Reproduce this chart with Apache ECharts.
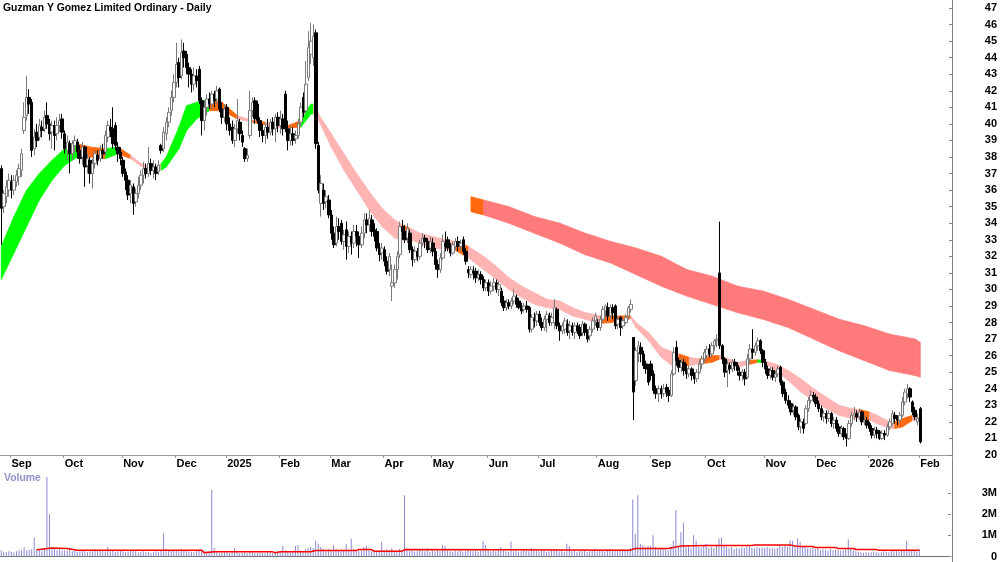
<!DOCTYPE html>
<html>
<head>
<meta charset="utf-8">
<title>Guzman Y Gomez Limited Ordinary - Daily</title>
<script src="https://cdn.jsdelivr.net/npm/echarts@6/dist/echarts.min.js"></script>
<style>
  html, body { margin: 0; padding: 0; background: #fff; }
  #main { width: 1000px; height: 562px; }
</style>
</head>
<body>
<div id="main"></div>
<script>
// daily candles per month, each item [open, close, low, high]
var aug24 = [[37.3,34.9,32.7,37.5],[35.0,35.8,34.6,36.0],[35.6,36.2,35.2,36.6],[36.0,36.6,35.6,37.0]];
var sep24 = [[36.5,36.0,35.5,36.9],[36.0,36.6,35.7,36.9],[36.5,36.9,36.2,37.2],[36.8,37.3,36.3,37.6],[37.2,38.2,36.8,38.5],[39.6,40.4,39.4,41.3],[40.5,41.6,40.2,42.9],[41.6,41.2,40.6,42.1],[41.3,38.4,38.0,41.5],[38.5,39.2,38.1,39.7],[39.5,39.0,38.6,40.0],[39.2,39.9,39.0,40.3],[39.8,39.6,39.2,40.2],[39.7,40.4,39.5,40.8],[40.5,40.0,39.7,41.3],[40.0,39.4,39.0,40.3],[39.5,39.9,38.5,40.2],[39.9,39.3,38.4,40.2],[39.4,39.9,39.0,40.4],[39.9,40.2,39.5,40.6],[40.3,39.5,39.1,40.6]];
var oct24 = [[39.4,38.5,38.2,39.6],[38.4,38.9,37.8,39.3],[38.8,38.2,37.0,39.0],[38.2,38.8,37.8,39.0],[38.7,39.0,38.3,39.3],[38.9,38.3,37.9,39.1],[38.4,37.9,37.6,38.7],[38.0,38.6,37.5,38.9],[38.6,37.4,36.2,38.7],[37.5,37.9,37.0,38.2],[37.8,37.0,36.4,38.0],[37.0,37.6,36.1,37.9],[37.6,38.2,37.3,38.4],[38.1,37.8,37.5,38.4],[37.9,38.4,37.7,38.7],[38.4,38.2,37.9,38.8],[38.3,39.3,38.1,39.6],[39.2,39.9,38.9,40.2],[39.8,39.6,39.2,40.3],[39.7,38.8,38.5,41.0],[39.9,38.7,38.4,40.1],[38.6,38.2,37.7,38.9],[38.3,37.9,37.5,38.6]];
var nov24 = [[37.8,37.0,36.8,38.0],[37.1,36.6,36.0,37.3],[36.6,35.7,35.4,36.9],[35.8,36.3,35.2,36.6],[36.2,35.2,34.5,36.4],[35.3,35.8,35.0,36.1],[35.8,36.3,35.5,36.8],[36.3,36.9,36.0,37.2],[36.9,37.3,36.4,37.7],[37.3,37.0,36.7,37.6],[37.0,37.6,36.8,38.6],[37.6,37.2,36.9,37.9],[37.2,37.4,36.7,37.8],[37.4,37.0,36.6,37.6],[37.1,37.5,36.9,37.8],[38.7,38.4,38.2,38.8],[38.5,39.5,38.3,39.8],[39.4,40.1,39.0,40.4],[40.1,40.7,39.8,41.0],[40.8,41.6,40.5,42.0],[41.6,42.5,41.3,43.0]];
var dec24 = [[42.5,43.6,42.2,44.9],[43.7,42.8,42.2,44.0],[42.9,44.3,42.7,45.1],[44.4,44.0,43.4,44.9],[44.2,43.4,43.0,44.4],[43.4,43.0,42.2,43.7],[43.0,42.4,41.9,43.3],[42.4,42.9,42.0,43.4],[42.9,42.6,42.2,43.3],[43.3,41.4,41.2,43.5],[41.4,40.2,39.3,41.6],[40.2,41.0,39.6,41.4],[41.0,41.5,40.5,41.8],[41.5,41.2,40.9,41.9],[41.2,41.8,40.9,42.0],[41.8,41.4,41.0,42.0],[41.5,42.0,41.2,42.3],[42.1,40.9,40.7,42.2],[40.9,40.4,40.0,41.3],[40.4,40.9,40.1,41.2]];
var jan25 = [[41.0,40.0,39.6,41.2],[40.0,39.6,39.3,40.4],[39.8,39.0,38.8,40.2],[39.0,39.7,38.6,40.0],[39.7,40.2,39.4,41.5],[40.1,39.4,39.0,40.3],[39.3,38.9,38.6,39.6],[38.5,37.9,37.7,38.6],[37.9,38.1,37.7,38.5],[39.3,40.8,39.1,42.0],[40.8,41.3,40.4,41.6],[41.4,40.3,40.0,41.6],[41.2,40.2,40.0,41.4],[40.2,39.6,39.2,40.4],[39.6,39.3,38.9,40.0],[39.3,39.8,38.8,40.1],[39.8,39.5,39.1,40.3],[39.5,40.1,39.3,40.3],[40.1,39.7,39.3,40.4],[39.7,40.4,38.9,40.6],[40.4,39.9,39.5,40.7]];
var feb25 = [[39.9,40.3,39.4,40.8],[40.3,39.7,39.3,40.6],[41.8,39.7,39.5,42.0],[39.7,39.0,38.4,40.2],[39.0,39.4,38.7,39.9],[39.4,39.0,38.7,39.8],[39.1,39.3,38.8,39.6],[39.3,40.0,39.1,40.3],[40.1,41.0,39.9,41.3],[41.6,40.7,40.4,41.9],[40.8,42.4,40.6,43.8],[42.8,44.6,42.6,45.6],[44.2,45.0,43.6,46.1],[44.0,45.3,43.5,46.0],[45.5,38.8,38.5,45.7],[38.7,36.0,35.8,38.9],[35.2,36.4,34.4,36.9],[36.0,35.2,34.8,36.4],[35.3,35.6,34.9,36.0],[35.4,34.5,34.3,35.7]];
var mar25 = [[34.5,33.4,33.0,34.8],[33.4,32.7,32.5,33.8],[32.8,33.8,32.6,34.4],[33.8,33.5,33.0,34.3],[34.0,32.9,32.7,34.2],[32.9,33.3,32.4,33.6],[33.6,32.6,31.8,34.1],[32.6,33.2,32.2,33.5],[33.2,32.8,32.1,33.5],[32.8,33.5,32.5,33.9],[33.5,33.2,32.6,33.9],[33.2,32.7,31.9,33.5],[32.7,33.4,32.5,33.8],[33.4,34.2,33.1,34.6],[34.2,33.9,33.4,34.6],[33.9,34.3,33.5,34.8],[34.2,33.5,33.2,34.5],[33.6,33.2,32.9,34.0],[33.5,32.5,32.3,33.7],[32.5,32.1,31.7,32.8],[32.2,32.5,31.8,32.8]];
var apr25 = [[32.4,31.7,31.4,32.6],[31.7,31.1,30.9,32.0],[31.2,32.0,30.8,32.2],[30.2,30.4,29.3,31.5],[30.4,31.2,30.1,31.5],[31.2,32.0,30.6,32.3],[32.1,33.8,31.9,34.1],[33.8,33.5,33.0,34.2],[33.5,33.0,32.8,33.9],[33.1,33.7,32.8,34.0],[33.4,32.4,32.2,33.6],[32.4,31.8,31.4,32.6],[31.8,32.3,31.6,32.6],[32.3,32.0,31.7,32.5],[32.0,32.8,31.8,33.0],[32.8,33.1,32.6,33.4],[33.1,32.9,32.5,33.3],[32.9,32.4,32.2,33.1],[32.5,32.9,32.2,33.2]];
var may25 = [[32.8,32.3,32.0,33.1],[32.3,31.5,31.2,32.5],[31.5,31.2,30.7,31.8],[31.2,31.9,31.0,32.2],[31.9,32.9,31.8,33.3],[32.8,32.6,32.3,33.5],[33.0,32.5,32.3,33.2],[32.5,32.2,32.0,32.8],[32.2,32.7,32.1,32.9],[32.6,32.9,32.4,33.1],[32.9,32.6,32.3,33.2],[32.6,32.8,32.3,33.0],[33.0,32.3,32.1,33.2],[32.3,31.7,31.5,32.5],[31.2,31.0,30.7,31.4],[30.9,31.2,30.7,31.4],[31.1,31.0,30.6,31.4],[31.1,30.7,30.4,31.3],[30.7,30.9,30.5,31.2],[30.9,30.6,30.3,31.1],[30.6,30.1,29.9,30.8],[30.1,30.4,29.9,30.6]];
var jun25 = [[30.4,29.9,29.6,30.6],[29.9,30.2,29.7,30.5],[30.2,30.4,29.9,30.7],[30.4,30.0,29.8,30.6],[30.0,30.3,29.6,30.5],[29.9,29.2,29.0,30.1],[29.3,28.9,28.7,29.6],[28.9,29.2,28.7,29.4],[29.2,29.0,28.8,29.4],[29.0,29.3,28.8,29.5],[29.3,29.6,29.1,30.0],[29.5,29.1,28.9,29.7],[29.3,28.9,28.8,29.5],[29.0,28.7,28.5,29.2],[28.8,29.0,28.6,29.2],[29.0,28.8,28.6,29.3],[28.9,27.6,27.4,29.0],[27.6,28.3,27.4,28.5],[28.2,28.1,27.7,28.6],[28.1,28.5,27.8,28.7]];
var jul25 = [[28.5,28.0,27.8,28.7],[28.0,27.7,27.5,28.3],[27.7,28.2,27.5,28.4],[28.2,28.5,27.4,28.7],[28.4,28.0,27.8,28.6],[28.0,28.3,27.8,28.6],[28.0,28.9,27.6,29.4],[28.8,27.8,27.6,28.9],[27.8,27.5,26.9,28.0],[27.5,27.8,27.3,28.0],[27.6,28.1,27.3,28.3],[27.9,27.4,27.2,28.2],[27.5,27.8,27.0,28.1],[27.8,27.4,27.2,28.0],[27.4,27.8,27.0,28.0],[27.8,27.5,27.3,28.0],[27.7,27.2,27.0,27.9],[27.4,27.9,27.2,28.1],[27.9,27.4,27.2,28.0],[27.4,27.0,26.8,27.6],[27.2,27.6,26.9,27.8],[27.6,28.1,27.4,28.3],[28.1,28.4,27.8,28.6]];
var aug25 = [[28.0,27.7,27.5,28.2],[27.7,28.2,27.5,28.4],[28.2,28.8,28.0,29.0],[28.7,29.0,28.3,29.1],[28.9,28.4,28.1,29.2],[28.4,28.9,28.2,29.1],[28.9,28.6,28.2,29.1],[29.0,27.8,27.6,29.1],[27.9,28.2,27.6,28.4],[28.3,27.7,27.2,28.4],[27.8,28.1,27.6,28.3],[28.0,28.3,27.9,28.5],[28.4,28.9,28.2,29.0],[28.8,29.1,28.6,29.4],[27.1,23.8,22.1,27.1],[24.5,26.3,24.2,26.5],[26.2,26.6,25.6,26.9],[26.5,26.1,25.6,26.8],[26.1,25.4,25.2,26.3],[25.5,25.2,24.9,25.7],[25.3,24.4,24.2,25.5]];
var sep25 = [[25.5,24.8,24.5,25.7],[24.9,23.9,23.7,25.1],[24.0,23.7,23.4,24.2],[23.7,24.0,23.2,24.2],[24.0,23.7,23.4,24.2],[23.7,24.0,23.5,24.3],[24.1,23.8,23.5,24.3],[23.9,23.6,23.2,24.1],[23.6,24.9,23.5,25.1],[24.9,26.2,24.8,26.5],[26.5,25.7,25.4,26.9],[25.7,25.3,25.0,25.9],[25.3,25.6,25.0,25.9],[25.6,25.1,24.8,25.8],[25.2,24.9,24.6,25.5],[24.9,25.2,24.7,25.4],[25.2,24.8,24.5,25.3],[24.8,24.6,24.3,25.0],[24.6,25.0,24.4,25.2],[25.0,25.5,24.9,25.7],[25.5,25.8,25.2,26.0],[25.8,26.2,25.6,26.4]];
var oct25 = [[26.0,26.4,25.8,26.6],[26.4,26.1,25.9,26.7],[26.1,26.6,25.9,26.8],[26.6,26.9,26.3,27.0],[26.9,27.0,26.5,27.3],[31.0,26.6,26.4,34.1],[26.6,25.8,25.5,26.7],[25.8,25.0,24.7,25.9],[25.1,25.5,24.1,25.7],[25.4,25.2,24.9,25.6],[25.2,25.6,25.0,25.8],[25.6,25.4,25.1,25.8],[25.4,25.1,24.8,25.6],[25.0,24.8,24.5,25.3],[24.8,25.0,24.5,25.2],[25.0,24.6,24.2,25.2],[24.7,25.8,24.6,26.1],[25.8,26.4,25.5,26.7],[26.4,26.2,25.8,27.6],[26.2,26.6,26.0,26.8],[26.6,26.9,26.3,27.1],[26.9,26.3,26.1,27.0],[26.3,25.6,25.3,26.4]];
var nov25 = [[25.6,25.2,24.9,25.8],[25.2,24.8,24.6,25.4],[24.8,25.1,24.6,25.3],[25.1,24.7,24.5,25.3],[24.7,24.9,24.4,25.1],[24.9,25.2,24.7,25.4],[25.3,24.4,24.2,25.4],[24.4,23.7,23.5,24.5],[23.8,23.3,23.1,24.0],[23.3,23.0,22.8,23.6],[23.1,22.6,22.4,23.3],[22.7,22.9,22.4,23.1],[22.9,22.3,22.1,23.0],[22.4,21.7,21.5,22.5],[21.7,22.0,21.3,22.2],[22.0,21.6,21.3,22.2],[21.9,22.8,21.8,23.0],[22.8,23.3,22.6,23.5],[23.3,23.6,23.1,23.9],[23.6,23.5,23.2,23.8]];
var dec25 = [[23.5,23.1,22.9,23.7],[23.1,22.8,22.6,23.3],[22.8,22.3,22.1,23.0],[22.3,22.5,22.0,22.7],[22.5,22.2,21.9,22.7],[22.2,22.5,22.0,22.7],[22.5,21.9,21.7,22.6],[21.9,22.1,21.6,22.3],[22.1,21.6,21.4,22.3],[21.7,21.3,21.1,21.9],[21.3,21.6,21.1,21.8],[21.6,21.1,20.9,21.7],[21.2,21.0,20.5,21.3],[21.0,21.9,20.9,22.1],[21.9,22.4,21.7,22.6],[22.4,22.5,22.1,22.9],[22.5,22.3,22.0,22.7],[22.3,22.6,22.1,22.8],[22.6,22.0,21.8,22.7],[22.0,22.1,21.8,22.4],[22.1,21.8,21.6,22.3]];
var jan26 = [[21.9,21.6,21.4,22.0],[21.6,21.2,21.0,21.8],[21.2,21.5,21.0,21.7],[21.5,21.3,21.0,21.7],[21.4,21.0,20.9,21.5],[21.0,21.3,20.9,21.5],[21.3,21.2,20.9,21.5],[21.2,21.7,21.1,21.9],[21.7,22.0,21.5,22.2],[21.9,22.5,21.8,22.7],[22.4,22.2,21.9,22.6],[22.2,22.1,21.8,22.4],[22.1,22.4,21.9,22.6],[22.4,23.2,22.3,23.5],[23.2,23.8,23.0,24.0],[23.7,24.0,23.4,24.3],[24.0,23.5,23.2,24.1],[23.2,22.6,22.4,23.3],[22.7,22.3,22.1,22.9],[22.0,22.2,21.8,22.5]];
var feb26 = [[22.8,20.8,20.7,22.9]];

// daily volume per month, millions of shares
var vAug24 = [0.30,0.22,0.20,0.25];
var vSep24 = [0.22,0.20,0.25,0.28,0.30,0.45,0.30,0.32,0.35,0.90,0.35,0.30,0.28,0.40,3.75,2.00,0.45,0.40,0.30,0.35,0.30];
var vOct24 = [0.30,0.28,0.40,0.25,0.30,0.22,0.25,0.30,0.28,0.20,0.25,0.30,0.35,0.28,0.35,0.30,0.25,0.45,0.30,0.28,0.22,0.25,0.30];
var vNov24 = [0.25,0.20,0.22,0.28,0.30,0.25,0.20,0.22,0.25,0.20,0.22,0.18,0.20,0.25,0.22,0.30,1.10,0.35,0.30,0.28,0.30];
var vDec24 = [0.30,0.25,0.35,0.28,0.30,0.25,0.22,0.20,0.30,0.35,0.28,0.30,0.25,0.22,3.15,0.40,0.20,0.15,0.18,0.20];
var vJan25 = [0.18,0.15,0.20,0.40,0.22,0.15,0.18,0.20,0.15,0.25,0.20,0.18,0.15,0.20,0.18,0.15,0.20,0.18,0.15,0.20,0.22];
var vFeb25 = [0.25,0.50,0.30,0.25,0.20,0.22,0.50,0.55,0.30,0.25,0.35,0.40,0.45,0.40,0.75,0.60,0.45,0.35,0.30,0.35];
var vMar25 = [0.30,0.55,0.35,0.30,0.25,0.30,0.60,0.30,0.85,0.35,0.30,0.25,0.28,0.45,0.50,0.30,0.25,0.30,0.28,0.30,0.70];
var vApr25 = [0.30,0.35,0.30,0.40,0.30,0.25,0.35,0.30,2.90,0.30,0.25,0.28,0.22,0.25,0.30,0.28,0.25,0.30,0.22];
var vMay25 = [0.28,0.25,0.30,0.25,0.55,0.50,0.30,0.25,0.22,0.28,0.25,0.30,0.22,0.25,0.30,0.28,0.25,0.30,0.22,0.28,0.75,0.55];
var vJun25 = [0.30,0.25,0.28,0.25,0.30,0.45,0.28,0.25,0.22,0.70,0.25,0.30,0.22,0.25,0.28,0.30,0.25,0.40,0.28,0.30];
var vJul25 = [0.25,0.30,0.28,0.22,0.25,0.30,0.35,0.28,0.25,0.30,0.22,0.60,0.50,0.25,0.28,0.22,0.25,0.30,0.28,0.22,0.25,0.30,0.35];
var vAug25 = [0.25,0.28,0.30,0.25,0.30,0.35,0.28,0.30,0.25,0.30,0.28,0.30,0.35,0.40,2.70,1.07,2.90,0.60,0.55,0.45,0.50];
var vSep25 = [0.50,1.00,0.45,0.40,0.35,0.40,0.35,0.30,0.40,0.75,2.20,0.50,1.15,1.60,0.45,0.50,0.40,1.00,0.75,0.45,0.40,0.50];
var vOct25 = [0.60,0.40,0.45,0.40,0.50,0.85,0.90,0.50,0.45,0.40,0.45,0.35,0.40,0.38,0.42,0.40,0.45,0.50,0.40,0.38,0.45,0.40,0.42];
var vNov25 = [0.40,0.45,0.38,0.40,0.35,0.40,0.50,0.45,0.50,0.45,0.75,0.75,0.50,0.85,0.70,0.50,0.45,0.40,0.38,0.40];
var vDec25 = [0.35,0.40,0.30,0.35,0.30,0.28,0.35,0.30,0.32,0.30,0.28,0.30,0.35,0.80,0.35,0.30,0.25,0.22,0.20,0.18,0.20];
var vJan26 = [0.18,0.20,0.22,0.20,0.18,0.20,0.25,0.22,0.20,0.28,0.25,0.30,0.25,0.28,0.30,0.75,0.35,0.30,0.28,0.25];
var vFeb26 = [0.35];

// volume average, read at trading-day index
var vmaIdx = [14,20,26,30,50,79,80,82,84,107,108,110,122,124,140,141,146,147,158,159,200,248,250,263,266,268,278,296,297,311,313,315,320,321,329,330,336,337,345,346,362];
var vmaVal = [0.32,0.40,0.38,0.30,0.30,0.30,0.18,0.20,0.22,0.22,0.18,0.22,0.22,0.28,0.28,0.33,0.33,0.25,0.25,0.33,0.32,0.30,0.38,0.38,0.45,0.50,0.52,0.52,0.55,0.55,0.50,0.47,0.47,0.42,0.42,0.38,0.38,0.33,0.33,0.30,0.30];

// short-term trend ribbon: index, upper, lower, state (g up, o flat, p down)
var ribIdx = [0,5,10,15,20,25,30,35,41,46,51,55,60,63,65,70,73,77,82,87,93,99,104,108,113,118,122,123,125,130,135,140,145,150,155,158,161,165,170,175,179,184,190,195,200,205,210,215,220,225,230,236,240,245,248,250,255,260,265,267,271,275,280,283,285,290,294,298,300,305,310,315,320,325,330,335,338,342,345,350,352,355,359,362];
var ribHi = [32.6,34.4,36.0,37.0,37.8,38.5,38.8,38.6,38.5,38.6,38.1,37.6,37.35,37.6,38.0,39.8,41.1,41.3,41.5,41.3,40.5,40.2,40.1,40.0,39.9,40.2,41.2,41.2,40.6,39.4,38.2,37.0,35.9,34.9,34.2,33.9,33.7,33.4,33.2,33.0,32.9,32.6,32.0,31.4,30.7,30.2,29.8,29.4,29.3,28.9,28.6,28.4,28.4,28.4,28.4,28.0,27.4,26.5,26.2,26.1,25.9,25.8,26.0,26.0,25.9,25.6,25.7,25.75,25.7,25.5,25.1,24.6,24.0,23.5,23.0,22.8,22.75,22.6,22.4,22.0,22.0,22.2,22.4,22.2];
var ribLo = [30.6,32.2,33.8,35.4,36.6,37.5,38.0,38.0,37.9,38.2,37.9,37.45,37.15,37.2,37.4,38.5,39.6,40.3,40.8,40.8,40.3,40.1,39.95,39.8,39.75,39.8,40.6,40.6,40.2,38.6,37.2,36.0,34.8,33.8,33.1,33.0,33.0,32.8,32.5,32.4,32.35,31.9,31.2,30.6,30.0,29.5,29.1,28.9,28.8,28.4,28.2,27.95,28.0,28.1,28.25,27.7,26.9,25.9,25.3,25.4,25.4,25.5,25.6,25.8,25.7,25.3,25.45,25.6,25.6,25.1,24.5,23.8,23.3,22.8,22.4,22.2,22.2,22.1,21.9,21.6,21.6,21.7,22.1,22.1];
var ribState = ('ggggggoogo' + 'pppgggggoo' + 'poppoggppp' + 'pppppopppp' + 'oppppppppp' +
                'pooopppppo' + 'poopppogpp' + 'ppppppoppp' + 'oopp').split('');

// long-term band
var bandIdx = [185,190,200,210,220,230,240,250,260,270,280,290,300,310,320,330,340,350,360,362];
var bandHi = [35.6,35.4,35.0,34.4,34.0,33.4,32.9,32.5,32.0,31.2,30.8,30.2,29.9,29.4,28.8,28.2,27.8,27.3,27.0,26.8];
var bandLo = [34.7,34.5,34.0,33.4,32.8,32.1,31.6,30.9,30.2,29.6,29.1,28.6,28.2,27.7,27.0,26.3,25.7,25.1,24.8,24.7];
var bandState = 'orrrrrrrrrrrrrrrrrrr'.split('');

var volTicks = [0, 1, 2, 3];

var holidays = ['2024-12-25','2024-12-26','2025-01-01','2025-01-27','2025-04-18','2025-04-21','2025-04-25',
                '2025-06-09','2025-12-25','2025-12-26','2026-01-01','2026-01-26'];
var monthNames = ['Jan','Feb','Mar','Apr','May','Jun','Jul','Aug','Sep','Oct','Nov','Dec'];

var candles = [].concat(aug24, sep24, oct24, nov24, dec24, jan25, feb25, mar25, apr25, may25,
  jun25, jul25, aug25, sep25, oct25, nov25, dec25, jan26, feb26);
var volumes = [].concat(vAug24, vSep24, vOct24, vNov24, vDec24, vJan25, vFeb25, vMar25, vApr25, vMay25,
  vJun25, vJul25, vAug25, vSep25, vOct25, vNov25, vDec25, vJan26, vFeb26);

// trading days, plus some empty room on the right
var dates = [];
var d = new Date(Date.UTC(2024, 7, 27));
while (dates.length < candles.length + 12) {
  var wd = d.getUTCDay();
  var s = d.toISOString().slice(0, 10);
  if (wd !== 0 && wd !== 6 && holidays.indexOf(s) < 0) dates.push(s);
  d.setUTCDate(d.getUTCDate() + 1);
}

var monthStart = {};
for (var i = 1; i < candles.length; i++) {
  if (dates[i].slice(5, 7) !== dates[i - 1].slice(5, 7)) monthStart[i] = true;
}
function isMonthStart(idx) { return !!monthStart[idx]; }

var colorMap = { g: '#00ff00', o: '#ff6a10', p: '#ffb4b4', r: '#ff7a7a' };
var FONT = "'Liberation Sans', Arial, sans-serif";

function bandSeries(idx, hi, lo, state, z) {
  var segs = [];
  for (var k = 0; k < idx.length - 1; k++) {
    segs.push([idx[k], lo[k], hi[k], idx[k + 1], lo[k + 1], hi[k + 1]]);
  }
  return {
    type: 'custom',
    xAxisIndex: 0,
    yAxisIndex: 0,
    z: z,
    silent: true,
    clip: true,
    encode: { x: [0, 3], y: [1, 2, 4, 5] },
    data: segs,
    renderItem: function (params, api) {
      var p1 = api.coord([api.value(0), api.value(2)]);
      var p2 = api.coord([api.value(3), api.value(5)]);
      var p3 = api.coord([api.value(3), api.value(4)]);
      var p4 = api.coord([api.value(0), api.value(1)]);
      var c = colorMap[state[params.dataIndex]];
      return {
        type: 'polygon',
        shape: { points: [p1, p2, p3, p4] },
        style: { fill: c, stroke: c, lineWidth: 0.8 }
      };
    }
  };
}

var chart = echarts.init(document.getElementById('main'));

var option = {
  animation: false,
  backgroundColor: '#ffffff',
  textStyle: { fontFamily: FONT },
  grid: [
    { left: 0, right: 48, top: 8, height: 447 },
    { left: 0, right: 48, top: 469, height: 89 }
  ],
  xAxis: [
    {
      type: 'category', gridIndex: 0, data: dates, boundaryGap: true,
      axisLine: { show: true, lineStyle: { color: '#9a9a9a', width: 1 } },
      axisTick: { show: true, interval: isMonthStart, length: 3, lineStyle: { color: '#9a9a9a' } },
      axisLabel: {
        show: true, interval: isMonthStart, align: 'left', margin: 3,
        color: '#000', fontSize: 11, fontWeight: 'bold', fontFamily: FONT,
        formatter: function (v) {
          var m = parseInt(v.slice(5, 7), 10) - 1;
          return m === 0 ? v.slice(0, 4) : monthNames[m];
        }
      },
      splitLine: { show: false }
    },
    {
      type: 'category', gridIndex: 1, data: dates, boundaryGap: true, position: 'top',
      axisLine: { show: true, lineStyle: { color: '#707070', width: 1 } },
      axisTick: { show: false }, axisLabel: { show: false }, splitLine: { show: false }
    }
  ],
  yAxis: [
    {
      type: 'value', gridIndex: 0, position: 'right', min: 20, max: 47, interval: 1,
      axisLine: { show: false },
      axisTick: { show: true, inside: true, length: 3, lineStyle: { color: '#808080' } },
      axisLabel: { color: '#000', fontSize: 11, fontWeight: 'bold', fontFamily: FONT, align: 'right', margin: 45 },
      splitLine: { show: false }
    },
    {
      type: 'value', gridIndex: 1, position: 'right', min: 0, max: 4.14,
      axisLine: { show: false },
      axisTick: { show: true, inside: true, length: 3, customValues: volTicks, lineStyle: { color: '#808080' } },
      axisLabel: {
        color: '#000', fontSize: 11, fontWeight: 'bold', fontFamily: FONT, align: 'right', margin: 46,
        customValues: volTicks,
        formatter: function (v) { return v === 0 ? '0' : v + 'M'; }
      },
      splitLine: { show: false }
    }
  ],
  series: [
    bandSeries(bandIdx, bandHi, bandLo, bandState, 1),
    bandSeries(ribIdx, ribHi, ribLo, ribState, 2),
    {
      type: 'candlestick', xAxisIndex: 0, yAxisIndex: 0, z: 5,
      data: candles,
      barWidth: 3,
      itemStyle: {
        color: '#ffffff', color0: '#000000',
        borderColor: '#7a7a7a', borderColor0: '#000000', borderWidth: 1
      }
    },
    {
      type: 'bar', xAxisIndex: 1, yAxisIndex: 1, data: volumes,
      barWidth: 1, itemStyle: { color: '#8a8ad2' }, silent: true
    },
    {
      type: 'line', xAxisIndex: 1, yAxisIndex: 1, z: 4,
      data: vmaIdx.map(function (ix, k) { return [ix, vmaVal[k]]; }),
      symbol: 'none', lineStyle: { color: '#ff0000', width: 1.5 }, silent: true
    }
  ],
  graphic: [
    {
      type: 'text', left: 3, top: 3,
      style: { text: 'Guzman Y Gomez Limited Ordinary - Daily', fill: '#000', font: 'bold 10.4px ' + FONT }
    },
    {
      type: 'text', left: 4, top: 473,
      style: { text: 'Volume', fill: '#9191cc', font: 'bold 10.4px ' + FONT }
    },
    {
      type: 'line', shape: { x1: 952.5, y1: 0, x2: 952.5, y2: 562 },
      style: { stroke: '#808080', lineWidth: 1 }
    }
  ]
};

chart.setOption(option);
</script>
</body>
</html>
